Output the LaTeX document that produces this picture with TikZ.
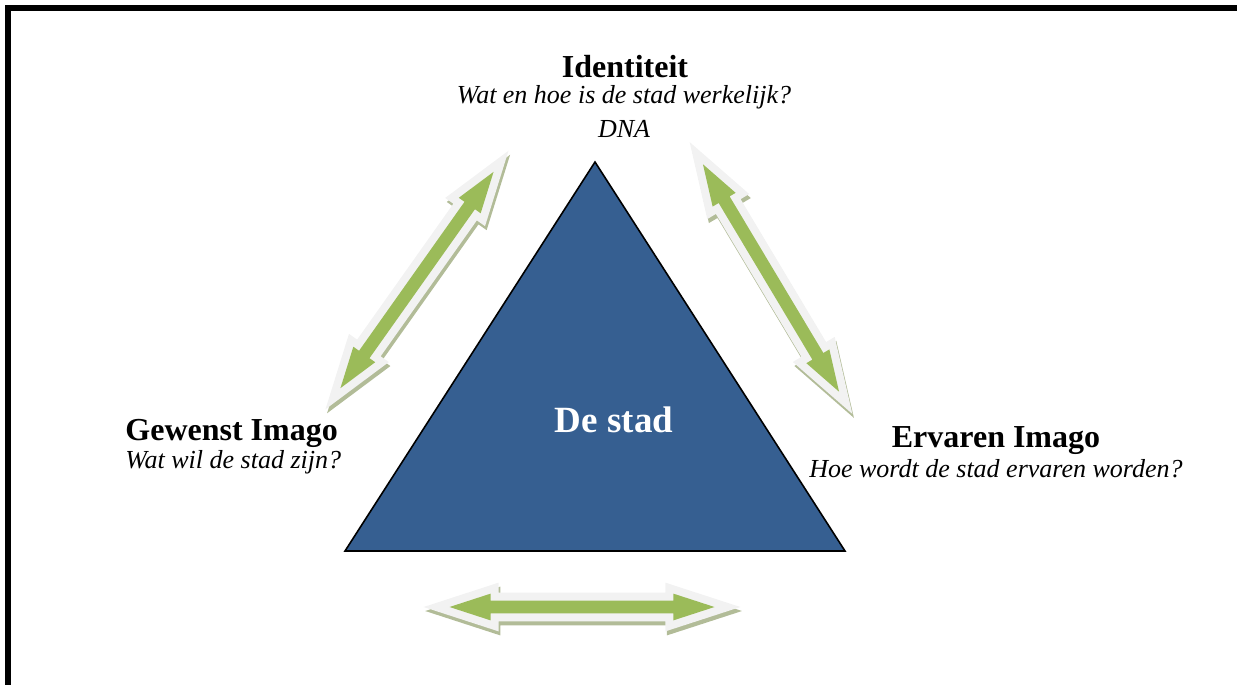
\documentclass[tikz,border=0pt]{standalone}
\usepackage{fontspec}
\setmainfont{Liberation Serif}
\usetikzlibrary{shapes.arrows}
\definecolor{stadblue}{RGB}{54,95,145}
\definecolor{pijlgreen}{RGB}{155,187,89}
\definecolor{pijlrand}{RGB}{242,242,242}
\definecolor{pijlschaduw}{RGB}{178,188,152}
\tikzset{
  pijl/.style={double arrow, fill=pijlgreen, inner xsep=0pt, inner ysep=3pt,
    double arrow head extend=3.5pt, double arrow tip angle=36,
    minimum height=132.5pt, line join=miter,
    preaction={draw=pijlschaduw, line width=8pt, transform canvas={shift={(0.8pt,-2pt)}}},
    preaction={draw=pijlrand, line width=8pt}},
  kop/.style={font=\bfseries\fontsize{16}{18}\selectfont, inner sep=0pt},
  vraag/.style={font=\itshape\fontsize{13}{15}\selectfont, inner sep=0pt}
}
\begin{document}
\begin{tikzpicture}[x=0.5pt,y=-0.5pt]
    \useasboundingbox (0,0) rectangle (1237,685);
    % kader
    \draw[line width=3pt] (8,685) -- (8,8) -- (1237,8);
    % driehoek
    \filldraw[fill=stadblue, draw=black, thick] (595,162) -- (845,551) -- (345,551) -- cycle;
    \node[font=\bfseries\fontsize{18.5}{20}\selectfont, text=white, inner sep=0pt, anchor=base] (stad) at (614,432) {De stad};
    % pijlen
    \node[pijl, rotate=54.7] (pijlL) at (417,280) {};
    \node[pijl, rotate=-59.1] (pijlR) at (771,278) {};
    \node[pijl] (pijlO) at (582,607) {};
    % teksten
    \node[kop, anchor=base] (ident) at (625,77) {Identiteit};
    \node[vraag, anchor=base] (identv) at (624,103) {Wat en hoe is de stad werkelijk?};
    \node[vraag, anchor=base] (dna) at (624,137) {DNA};
    \node[kop, anchor=base west] (gewenst) at (125,440) {Gewenst Imago};
    \node[vraag, anchor=base west] (gewenstv) at (125,468) {Wat wil de stad zijn?};
    \node[kop, anchor=base] (ervaren) at (996,447) {Ervaren Imago};
    \node[vraag, anchor=base] (ervarenv) at (996,477) {Hoe wordt de stad ervaren worden?};
\end{tikzpicture}
\end{document}
